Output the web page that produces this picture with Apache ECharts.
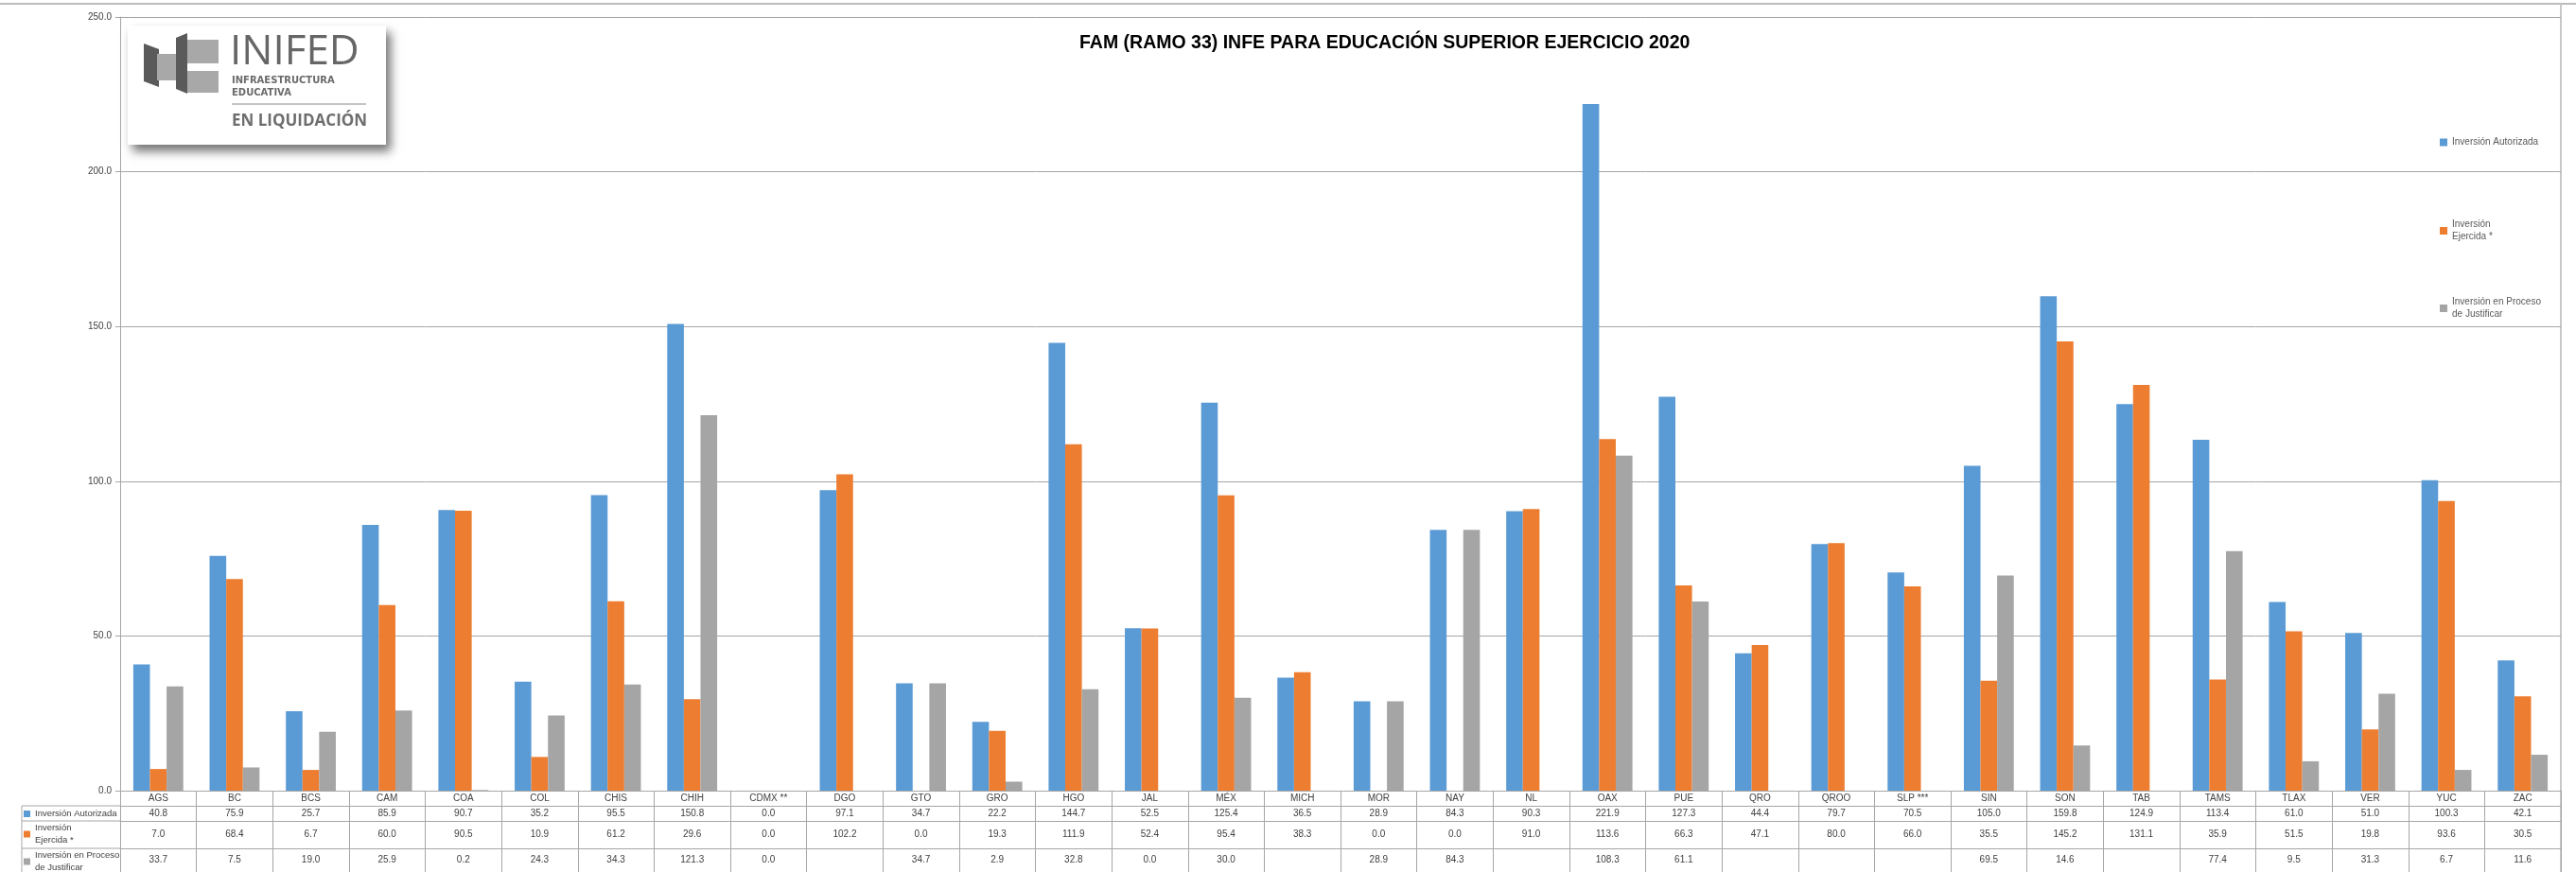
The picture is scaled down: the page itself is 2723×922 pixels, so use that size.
<!DOCTYPE html>
<html>
<head>
<meta charset="utf-8">
<script src="https://cdn.jsdelivr.net/npm/echarts@6/dist/echarts.min.js"></script>
<style>
  html, body { margin: 0; padding: 0; background: #fff; }
  #main { width: 2723px; height: 922px; }
</style>
</head>
<body>
<div id="main"></div>
<script>
// estados (columnas de la tabla)
const categories = ['AGS', 'BC', 'BCS', 'CAM', 'COA', 'COL', 'CHIS', 'CHIH', 'CDMX **', 'DGO', 'GTO', 'GRO',
  'HGO', 'JAL', 'MÉX', 'MICH', 'MOR', 'NAY', 'NL', 'OAX', 'PUE', 'QRO', 'QROO', 'SLP ***',
  'SIN', 'SON', 'TAB', 'TAMS', 'TLAX', 'VER', 'YUC', 'ZAC'];

const autorizada = [40.8, 75.9, 25.7, 85.9, 90.7, 35.2, 95.5, 150.8, 0.0, 97.1, 34.7, 22.2,
  144.7, 52.5, 125.4, 36.5, 28.9, 84.3, 90.3, 221.9, 127.3, 44.4, 79.7, 70.5,
  105.0, 159.8, 124.9, 113.4, 61.0, 51.0, 100.3, 42.1];

const ejercida = [7.0, 68.4, 6.7, 60.0, 90.5, 10.9, 61.2, 29.6, 0.0, 102.2, 0.0, 19.3,
  111.9, 52.4, 95.4, 38.3, 0.0, 0.0, 91.0, 113.6, 66.3, 47.1, 80.0, 66.0,
  35.5, 145.2, 131.1, 35.9, 51.5, 19.8, 93.6, 30.5];

// celdas vacias = null
const proceso = [33.7, 7.5, 19.0, 25.9, 0.2, 24.3, 34.3, 121.3, 0.0, null, 34.7, 2.9,
  32.8, 0.0, 30.0, null, 28.9, 84.3, null, 108.3, 61.1, null, null, null,
  69.5, 14.6, null, 77.4, 9.5, 31.3, 6.7, 11.6];

const seriesNames = ['Inversión Autorizada', 'Inversión Ejercida *', 'Inversión en Proceso de Justificar'];
const colors = ['#5b9bd5', '#ed7d31', '#a5a5a5'];

const FONT = '"Liberation Sans", Arial, sans-serif';
const LINE = '#a6a6a6';

const fmt = v => (v == null ? '' : v.toFixed(1));

// nombres partidos en dos lineas como en el original
const legendText = {
  'Inversión Autorizada': 'Inversión Autorizada',
  'Inversión Ejercida *': 'Inversión\nEjercida *',
  'Inversión en Proceso de Justificar': 'Inversión en Proceso\nde Justificar'
};

const chart = echarts.init(document.getElementById('main'), null, { renderer: 'canvas' });

function tableAxis(arr, offset, margin) {
  return {
    type: 'category',
    data: categories,
    position: 'bottom',
    offset: offset,
    axisLine: { show: true, lineStyle: { color: LINE, width: 1 } },
    axisTick: { show: false },
    splitLine: { show: false },
    axisLabel: {
      interval: 0,
      margin: margin,
      verticalAlign: 'middle',
      color: '#404040',
      fontFamily: FONT,
      fontSize: 10,
      formatter: (v, i) => fmt(arr[i])
    }
  };
}

function rightLegend(name, top) {
  return {
    data: [name],
    orient: 'vertical',
    left: 2574,
    top: top,
    itemWidth: 8,
    itemHeight: 8,
    icon: 'rect',
    itemGap: 4,
    textStyle: { color: '#595959', fontFamily: FONT, fontSize: 10, lineHeight: 13 },
    formatter: n => legendText[n]
  };
}

function tableLegend(name, top) {
  return {
    data: [name],
    orient: 'vertical',
    left: 25,
    top: top,
    padding: 0,
    itemWidth: 7,
    itemHeight: 7,
    itemGap: 4,
    icon: 'rect',
    textStyle: { color: '#404040', fontFamily: FONT, fontSize: 9.5, lineHeight: 13 },
    formatter: n => legendText[n]
  };
}

const option = {
  animation: false,
  backgroundColor: '#ffffff',
  title: {
    text: 'FAM (RAMO 33) INFE PARA EDUCACIÓN SUPERIOR EJERCICIO 2020',
    left: 1136,
    top: 31,
    textStyle: { fontFamily: FONT, fontWeight: 'bold', fontSize: 19.5, color: '#000' }
  },
  legend: [
    rightLegend(seriesNames[0], 139),
    rightLegend(seriesNames[1], 226),
    rightLegend(seriesNames[2], 308),
    tableLegend(seriesNames[0], 854),
    tableLegend(seriesNames[1], 869),
    tableLegend(seriesNames[2], 898)
  ],
  grid: { left: 127, right: 16, top: 18, bottom: 86, containLabel: false },
  xAxis: [
    {
      type: 'category',
      data: categories,
      position: 'bottom',
      axisLine: { show: true, lineStyle: { color: LINE, width: 1 } },
      axisTick: { show: true, interval: 0, length: 86, lineStyle: { color: LINE, width: 1 } },
      axisLabel: {
        interval: 0, margin: 8, verticalAlign: 'middle',
        color: '#404040', fontFamily: FONT, fontSize: 10
      }
    },
    tableAxis(autorizada, 16, 8),
    tableAxis(ejercida, 32, 14),
    tableAxis(proceso, 61, 12)
  ],
  yAxis: {
    type: 'value',
    min: 0,
    max: 250,
    interval: 50,
    axisLine: { show: true, lineStyle: { color: LINE } },
    axisTick: { show: true, length: 5, lineStyle: { color: LINE } },
    splitLine: { show: true, lineStyle: { color: '#a6a6a6', width: 1 } },
    axisLabel: {
      margin: 9, color: '#404040', fontFamily: FONT, fontSize: 10,
      formatter: v => v.toFixed(1)
    }
  },
  series: [autorizada, ejercida, proceso].map((arr, k) => ({
    name: seriesNames[k],
    type: 'bar',
    data: arr,
    barWidth: 17.6,
    barGap: '0%',
    itemStyle: { color: colors[k] }
  })),
  graphic: [
    // borde superior y derecho del area
    { type: 'line', shape: { x1: 0, y1: 4, x2: 2723, y2: 4 }, style: { stroke: '#a6a6a6', lineWidth: 1.5 } },
    { type: 'line', shape: { x1: 2707, y1: 4, x2: 2707, y2: 922 }, style: { stroke: '#c8c8c8', lineWidth: 2 } },
    // columna de encabezados de la tabla
    { type: 'line', shape: { x1: 23, y1: 852, x2: 127, y2: 852 }, style: { stroke: LINE } },
    { type: 'line', shape: { x1: 23, y1: 868, x2: 127, y2: 868 }, style: { stroke: LINE } },
    { type: 'line', shape: { x1: 23, y1: 897, x2: 127, y2: 897 }, style: { stroke: LINE } },
    { type: 'line', shape: { x1: 23, y1: 852, x2: 23, y2: 922 }, style: { stroke: LINE } },
    // logo INIFED
    {
      type: 'group',
      children: [
        {
          type: 'rect', shape: { x: 135, y: 27, width: 273, height: 126 },
          style: { fill: '#fff', shadowBlur: 10, shadowOffsetX: 5, shadowOffsetY: 7, shadowColor: 'rgba(0,0,0,0.55)' }
        },
        { type: 'polygon', shape: { points: [[152, 46], [168, 52], [168, 92], [152, 86]] }, style: { fill: '#5a5a5a' } },
        { type: 'rect', shape: { x: 166, y: 57, width: 30, height: 28 }, style: { fill: '#a8a8a8' } },
        { type: 'polygon', shape: { points: [[186, 40], [198, 35], [198, 99], [186, 94]] }, style: { fill: '#5a5a5a' } },
        { type: 'rect', shape: { x: 198, y: 42, width: 33, height: 25 }, style: { fill: '#a8a8a8' } },
        { type: 'rect', shape: { x: 198, y: 75, width: 33, height: 23 }, style: { fill: '#a8a8a8' } },
        {
          type: 'text', x: 243, y: 55,
          style: { text: 'INIFED', fill: '#666666', font: 'normal 44px "Open Sans", sans-serif', textVerticalAlign: 'middle' }
        },
        {
          type: 'text', x: 245, y: 85,
          style: { text: 'INFRAESTRUCTURA', fill: '#6a6a6a', font: 'bold 10px "DejaVu Sans", sans-serif', textVerticalAlign: 'middle' }
        },
        {
          type: 'text', x: 245, y: 98,
          style: { text: 'EDUCATIVA', fill: '#6a6a6a', font: 'bold 10px "DejaVu Sans", sans-serif', textVerticalAlign: 'middle' }
        },
        { type: 'line', shape: { x1: 245, y1: 110, x2: 387, y2: 110 }, style: { stroke: '#8a8a8a', lineWidth: 1 } },
        {
          type: 'text', x: 245, y: 128,
          style: { text: 'EN LIQUIDACIÓN', fill: '#6e6e6e', font: 'bold 17px "Open Sans", sans-serif', textVerticalAlign: 'middle' }
        }
      ]
    }
  ]
};

chart.setOption(option);
</script>
</body>
</html>
